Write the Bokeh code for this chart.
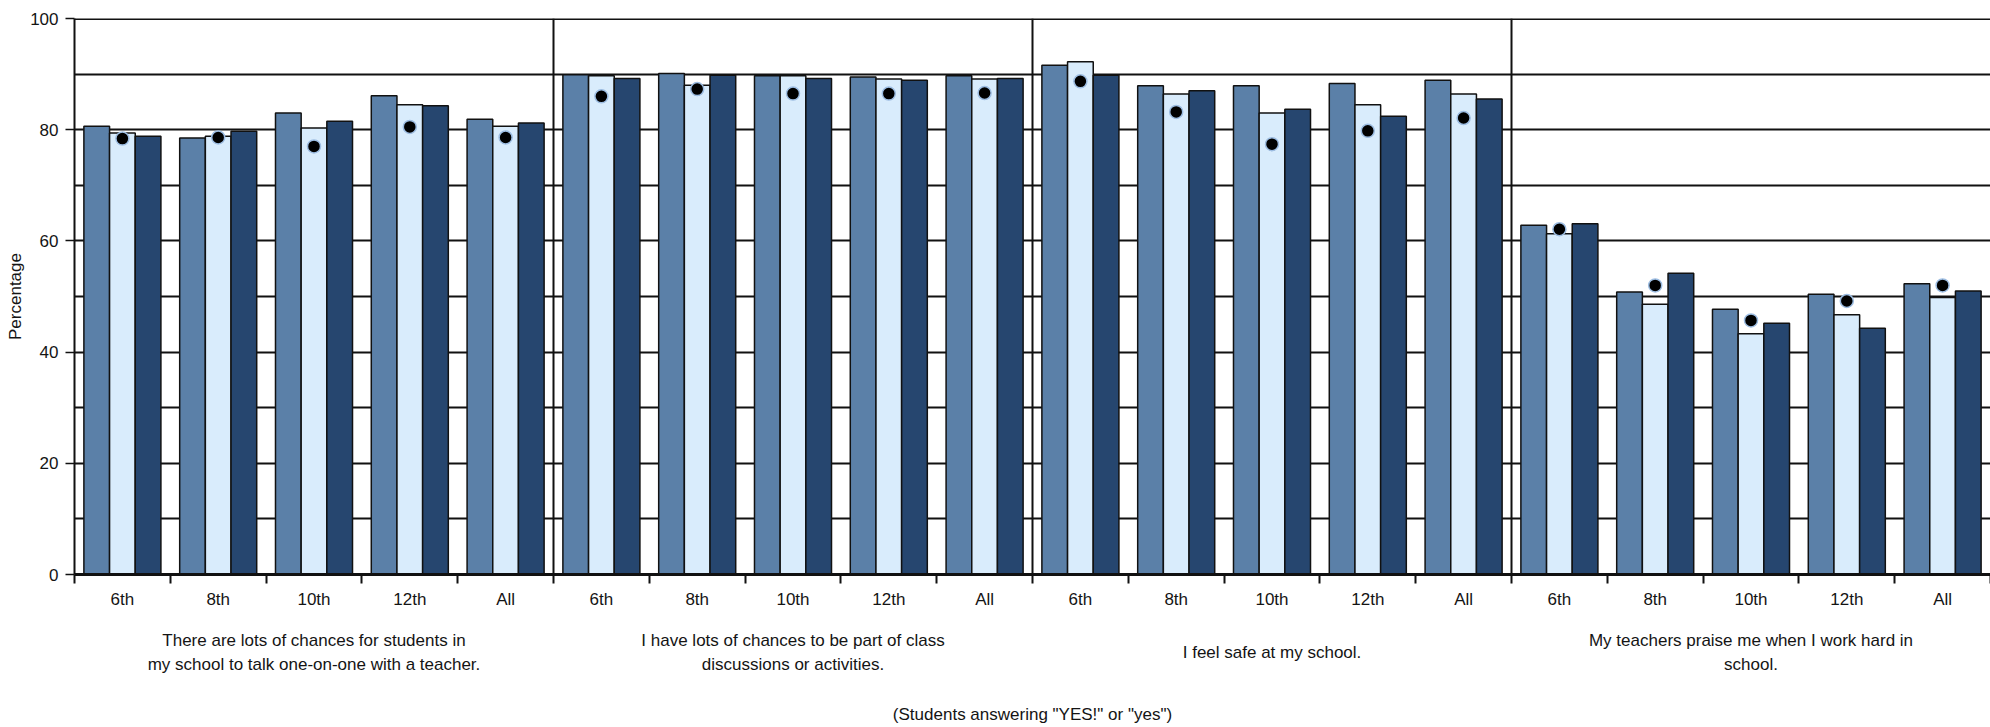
from bokeh.plotting import figure
from bokeh.layouts import column
from bokeh.models import Range1d, FixedTicker, Span, ColumnDataSource
from bokeh.core.properties import value
from bokeh.embed import file_html
from bokeh.resources import INLINE

# ---------------- data ----------------
grades = ["6th", "8th", "10th", "12th", "All"]
panels = [
    "There are lots of chances for students in\nmy school to talk one-on-one with a teacher.",
    "I have lots of chances to be part of class\ndiscussions or activities.",
    "I feel safe at my school.",
    "My teachers praise me when I work hard in\nschool.",
]
series_a = [80.6, 78.5, 83.0, 86.1, 81.9,
            89.9, 90.1, 89.7, 89.5, 89.7,
            91.6, 87.9, 87.9, 88.3, 88.9,
            62.8, 50.8, 47.7, 50.4, 52.3]
series_b = [79.4, 78.8, 80.3, 84.5, 80.6,
            89.7, 88.0, 89.7, 89.1, 89.1,
            92.2, 86.4, 83.0, 84.5, 86.4,
            61.3, 48.6, 43.3, 46.7, 49.8]
series_c = [78.8, 79.7, 81.5, 84.3, 81.2,
            89.2, 89.8, 89.2, 88.9, 89.2,
            89.8, 87.0, 83.7, 82.4, 85.5,
            63.1, 54.2, 45.2, 44.3, 51.0]
comparison = [78.4, 78.6, 77.0, 80.5, 78.6,
              86.0, 87.3, 86.5, 86.5, 86.6,
              88.7, 83.2, 77.4, 79.8, 82.1,
              62.1, 52.0, 45.7, 49.2, 52.0]
y_ticks = [0, 20, 40, 60, 80, 100]
note = '(Students answering "YES!" or "yes")'
y_title = "Percentage"

# ---------------- styling ----------------
FONT = "Liberation Sans"
FS = "17px"
TXT = "#141414"
LINE = "#111111"
C_A = "#5b80a8"
C_B = "#d9ecfc"
C_C = "#26466f"
BW = 0.268
W = 1990
H_MAIN = 615
H_NOTES = 111
LEFT = 74

n_grades = len(grades)
n = len(series_a)
slots = list(range(n))
src = ColumnDataSource(dict(
    x=slots,
    xa=[s - BW for s in slots],
    xc=[s + BW for s in slots],
    a=series_a, b=series_b, c=series_c, d=comparison,
))

xr = Range1d(-0.5, n - 0.5)
p = figure(width=W, height=H_MAIN, x_range=xr, y_range=Range1d(0, 100),
           output_backend="svg", toolbar_location=None,
           min_border_left=LEFT, min_border_right=0, min_border_top=18,
           min_border_bottom=41)
p.outline_line_color = None

# grid
p.xgrid.visible = False
p.ygrid.ticker = FixedTicker(ticks=list(range(10, 101, 10)))
p.ygrid.grid_line_color = LINE
p.ygrid.grid_line_width = 2

for k in range(1, len(panels)):
    p.add_layout(Span(location=k * n_grades - 0.5, dimension="height",
                      line_color=LINE, line_width=2, level="underlay"))
p.add_layout(Span(location=100, dimension="width", line_color=LINE,
                  line_width=3))

# bars and comparison dots
p.vbar(x="xa", top="a", width=BW, bottom=0, source=src, fill_color=C_A,
       line_color=LINE, line_width=1.5)
p.vbar(x="x", top="b", width=BW, bottom=0, source=src, fill_color=C_B,
       line_color=LINE, line_width=1.5)
p.vbar(x="xc", top="c", width=BW, bottom=0, source=src, fill_color=C_C,
       line_color=LINE, line_width=1.5)
p.scatter(x="x", y="d", source=src, size=13, fill_color="black",
          line_color="#9dbde2", line_width=1.5)

# x axis
xa = p.xaxis[0]
xa.ticker = FixedTicker(ticks=slots,
                        minor_ticks=[s - 0.5 for s in slots] + [n - 0.5])
xa.major_label_overrides = {s: grades[s % n_grades] for s in slots}
xa.major_tick_out = 0
xa.major_tick_in = 0
xa.minor_tick_out = 9
xa.minor_tick_in = 0
xa.minor_tick_line_color = LINE
xa.minor_tick_line_width = 2
xa.axis_line_width = 3
xa.axis_line_color = LINE
xa.major_label_standoff = 6
xa.major_label_text_font = FONT
xa.major_label_text_font_size = FS
xa.major_label_text_color = TXT

# y axis
ya = p.yaxis[0]
ya.ticker = FixedTicker(ticks=y_ticks)
ya.major_tick_out = 9
ya.major_tick_in = 0
ya.minor_tick_out = 0
ya.minor_tick_in = 0
ya.major_tick_line_width = 1.5
ya.major_tick_line_color = LINE
ya.axis_line_width = 2
ya.axis_line_color = LINE
ya.major_label_standoff = 7
ya.major_label_text_font = FONT
ya.major_label_text_font_size = FS
ya.major_label_text_color = TXT
ya.axis_label = y_title
ya.axis_label_text_font = FONT
ya.axis_label_text_font_size = FS
ya.axis_label_text_font_style = "normal"
ya.axis_label_text_color = TXT
ya.axis_label_standoff = 2

# ---------------- panel titles and note (strip below the chart) ----------------
q = figure(width=W, height=H_NOTES, x_range=xr, y_range=Range1d(0, H_NOTES),
           output_backend="svg", toolbar_location=None,
           x_axis_location=None, y_axis_location=None,
           min_border_left=LEFT, min_border_right=0, min_border_top=0,
           min_border_bottom=0)
q.outline_line_color = None
q.xgrid.visible = False
q.ygrid.visible = False
title_x = [k * n_grades + (n_grades - 1) / 2 for k in range(len(panels))]
q.text(x=title_x, y=[H_NOTES - 37] * len(panels), text=panels,
       text_align="center", text_baseline="middle", text_font=value(FONT),
       text_font_size=FS, text_color=TXT, text_line_height=1.28)
q.text(x=[(n - 1) / 2], y=[H_NOTES - 99], text=[note], text_align="center",
       text_baseline="middle", text_font=value(FONT), text_font_size=FS,
       text_color=TXT)

layout = column(p, q, spacing=0)
open("out.html", "w").write(file_html(layout, INLINE))
